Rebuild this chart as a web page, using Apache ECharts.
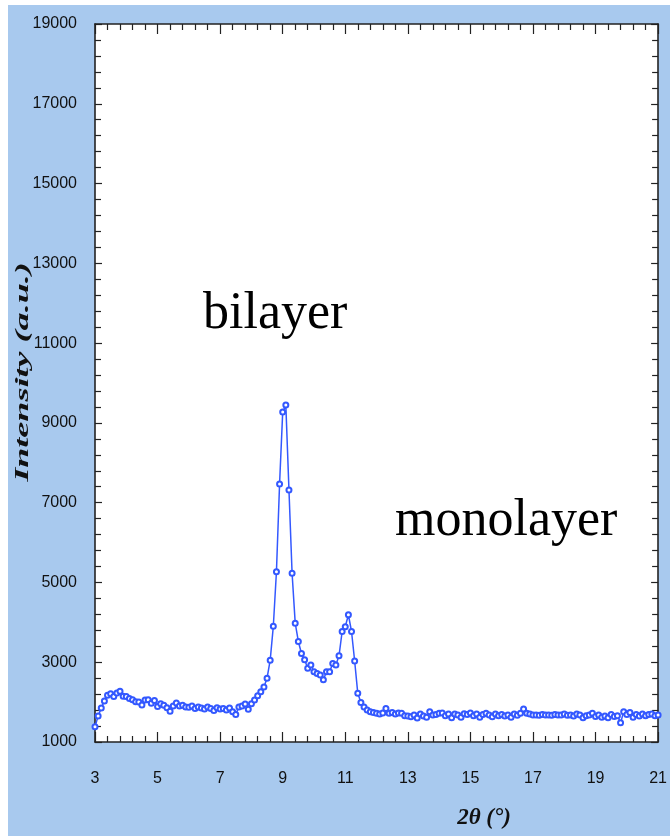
<!DOCTYPE html>
<html>
<head>
<meta charset="utf-8">
<script src="https://cdn.jsdelivr.net/npm/echarts@6/dist/echarts.min.js"></script>
<style>
html,body{margin:0;padding:0;background:#ffffff;}
#chart{width:670px;height:836px;}
</style>
</head>
<body>
<div id="chart"></div>
<script>
// 2-theta sampling grid (degrees)
const thetaStart = 3.0;
const thetaStep = 0.1;
// Intensity (a.u.), one value per 0.1 deg from 3.0 to 21.0
const intensity = [
  1380, 1650, 1850, 2030, 2170, 2210, 2140, 2230, 2270, 2150,
  2140, 2090, 2060, 2010, 2000, 1930, 2050, 2060, 1970, 2040,
  1890, 1960, 1920, 1860, 1770, 1900, 1980, 1900, 1920, 1880,
  1870, 1900, 1840, 1880, 1850, 1830, 1880, 1840, 1790, 1860,
  1830, 1840, 1800, 1850, 1760, 1690, 1880, 1900, 1950, 1820,
  1960, 2050, 2160, 2260, 2380, 2600, 3050, 3900, 5270, 7470,
  9270, 9450, 7320, 5230, 3980, 3520, 3220, 3060, 2850, 2930,
  2760, 2720, 2680, 2560, 2760, 2760, 2970, 2930, 3160, 3770,
  3890, 4190, 3770, 3030, 2220, 1990, 1880, 1800, 1760, 1740,
  1720, 1700, 1730, 1840, 1720, 1740, 1700, 1730, 1720, 1660,
  1650, 1630, 1680, 1600, 1700, 1650, 1620, 1760, 1680, 1690,
  1720, 1730, 1660, 1700, 1610, 1700, 1680, 1620, 1710, 1690,
  1730, 1660, 1700, 1620, 1690, 1720, 1680, 1630, 1700, 1660,
  1690, 1650, 1680, 1620, 1700, 1670, 1720, 1830, 1720, 1700,
  1680, 1680, 1670, 1690, 1680, 1680, 1670, 1690, 1680, 1680,
  1700, 1670, 1680, 1650, 1700, 1680, 1610, 1660, 1680, 1720,
  1640, 1680, 1620, 1650, 1610, 1690, 1640, 1660, 1480, 1760,
  1690, 1740, 1620, 1690, 1650, 1700, 1660, 1690, 1700, 1660,
  1680
];
const xRange = [3, 21];
const yRange = [1000, 19000];
const yTitle = 'Intensity (a.u.)';
const xTitle = '2θ (°)';
const annotations = ['bilayer', 'monolayer'];

const seriesData = intensity.map((v, i) => [+(thetaStart + i * thetaStep).toFixed(1), v]);

const labelFont = {
  fontFamily: '"Liberation Sans Narrow", "Liberation Sans", Arial, sans-serif',
  fontSize: 16,
  color: '#111',
  formatter: v => String(v)
};
const lineStyle = { color: '#222', width: 1.6 };

function xAx(pos, showLabel) {
  return {
    type: 'value', position: pos, min: xRange[0], max: xRange[1], interval: 2,
    axisLine: { show: true, onZero: false, lineStyle },
    axisTick: { show: true, inside: true, length: 10, lineStyle: { color: '#222', width: 1.2 } },
    minorTick: { show: true, splitNumber: 5, length: 6, lineStyle: { color: '#222', width: 1.2 } },
    axisLabel: Object.assign({ show: showLabel, margin: 29 }, labelFont),
    splitLine: { show: false }, minorSplitLine: { show: false }
  };
}
function yAx(pos, showLabel) {
  return {
    type: 'value', position: pos, min: yRange[0], max: yRange[1], interval: 2000,
    axisLine: { show: true, onZero: false, lineStyle },
    axisTick: { show: true, inside: true, length: 7, lineStyle: { color: '#222', width: 1.2 } },
    minorTick: { show: true, splitNumber: 5, length: 6, lineStyle: { color: '#222', width: 1.2 } },
    axisLabel: Object.assign({ show: showLabel, margin: 18 }, labelFont),
    splitLine: { show: false }, minorSplitLine: { show: false }
  };
}

const chart = echarts.init(document.getElementById('chart'), null, { renderer: 'canvas' });
chart.setOption({
  animation: false,
  backgroundColor: '#ffffff',
  grid: { left: 95, top: 24, right: 9, bottom: 94, show: true, backgroundColor: '#ffffff', borderWidth: 0 },
  xAxis: [xAx('bottom', true), xAx('top', false)],
  yAxis: [yAx('left', true), yAx('right', false)],
  graphic: [
    { type: 'rect', z: -10, shape: { x: 8, y: 5, width: 662, height: 831 }, style: { fill: '#a8c9ee' } },
    { type: 'text', x: 23, y: 372, rotation: Math.PI / 2, scaleX: 1.9, scaleY: 1, z: 10,
      style: { text: yTitle, font: 'italic bold 19px "Liberation Serif", "Times New Roman", serif', fill: '#111', textAlign: 'center', textVerticalAlign: 'middle' } },
    { type: 'text', x: 484, y: 818, z: 10,
      style: { text: xTitle, font: 'italic bold 23px "Liberation Serif", "Times New Roman", serif', fill: '#111', textAlign: 'center', textVerticalAlign: 'middle' } },
    { type: 'text', x: 203, y: 340, z: 10,
      style: { text: annotations[0], font: '52px "Liberation Serif", "Times New Roman", serif', fill: '#000', textAlign: 'left', textVerticalAlign: 'bottom' } },
    { type: 'text', x: 395, y: 547, z: 10,
      style: { text: annotations[1], font: '52px "Liberation Serif", "Times New Roman", serif', fill: '#000', textAlign: 'left', textVerticalAlign: 'bottom' } }
  ],
  series: [{
    type: 'line',
    xAxisIndex: 0, yAxisIndex: 0,
    data: seriesData,
    showAllSymbol: true,
    symbol: 'emptyCircle',
    symbolSize: 5,
    lineStyle: { color: '#3358ff', width: 1.5 },
    itemStyle: { color: '#3358ff', borderWidth: 1.3 },
    z: 5
  }]
});
</script>
</body>
</html>
